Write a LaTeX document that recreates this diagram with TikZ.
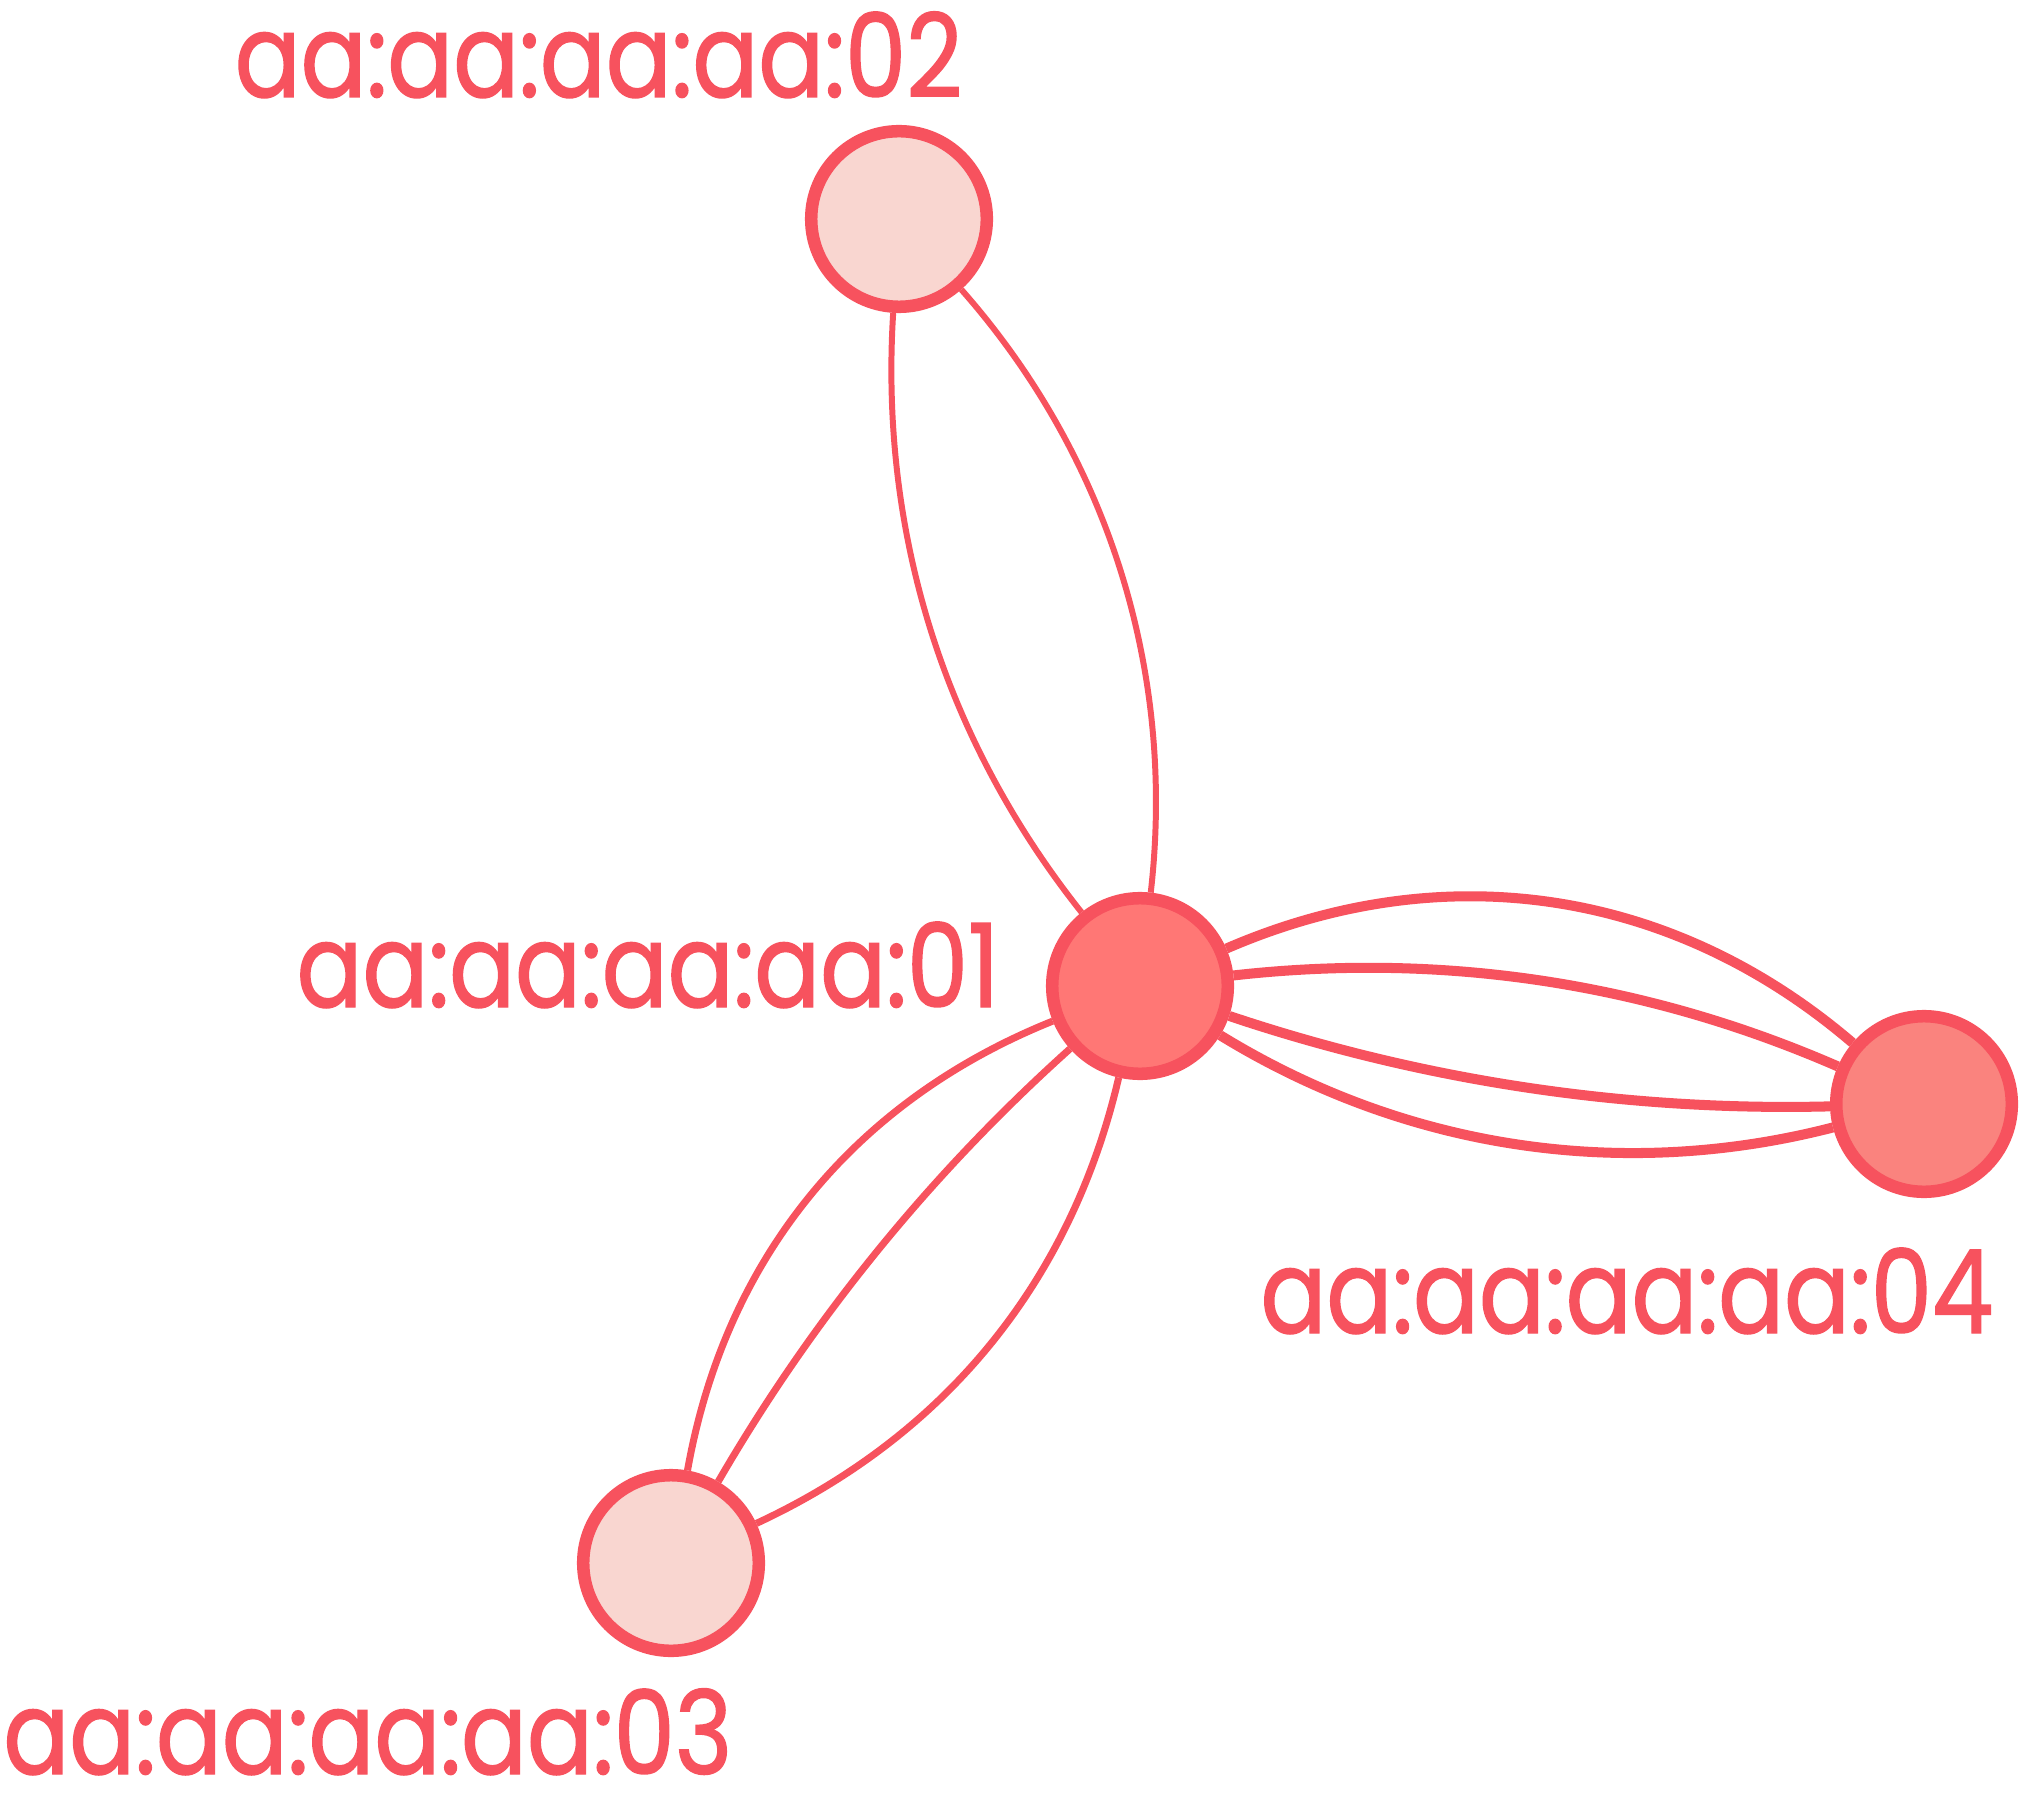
\documentclass[tikz,border=0pt]{standalone}
\usepackage{fontspec}
\setmainfont{Poppins}
\newfontfamily\lblfont[FakeStretch=0.84,FakeBold=1.2]{Poppins}
\usepackage{tikz}
\usetikzlibrary{calc}
\definecolor{edgered}{RGB}{247,82,94}
\definecolor{fillmain}{RGB}{255,119,117}
\definecolor{fillfour}{RGB}{250,131,126}
\definecolor{filllight}{RGB}{249,214,208}

\begin{document}
\begin{tikzpicture} [x=0.01cm, y=0.01cm,
  vert/.style={circle,draw=edgered,line width=3.56pt,minimum size=1.755cm,inner sep=0pt},
  lbl/.style={anchor=base east,inner sep=0pt,text=edgered,font=\lblfont\fontsize{33}{33}\selectfont}
]
\useasboundingbox (0,0) rectangle (2019,1805);
\node[vert,fill=fillmain]  (m01) at (1140,819) {};
\node[vert,fill=filllight] (m02) at (899,1586) {};
\node[vert,fill=filllight] (m03) at (671,242) {};
\node[vert,fill=fillfour]  (m04) at (1924,701) {};
% labels
\node[lbl] (l01) at ($(m01)+(-140,-21)$) {aa:aa:aa:aa:01};
\node[lbl] (l02) at ($(m02)+(64,122)$) {aa:aa:aa:aa:02};
\node[lbl] (l03) at ($(m03)+(62,-211)$) {aa:aa:aa:aa:03};
\node[lbl] (l04) at ($(m04)+(70,-229)$) {aa:aa:aa:aa:04};
% links
\path[draw=edgered,line width=1.7pt]
(m01) edge[bend left=21,looseness=0.9] (m02)
(m01) edge[bend right=24,looseness=0.9] (m02)
;
\path[draw=edgered,line width=2pt]
(m01) edge[bend right=29,looseness=0.95] (m03)
(m01) edge[bend right=9,looseness=0.86] (m03)
(m01) edge[bend left=26,looseness=0.93] (m03)
;
\path[draw=edgered,line width=2.85pt]
(m01) edge[bend left=32,looseness=0.96] (m04)
(m01) edge[bend left=15,looseness=0.88] (m04)
(m01) edge[bend right=10,looseness=0.86] (m04)
(m01) edge[bend right=23,looseness=0.9] (m04)
;
\end{tikzpicture}
\end{document}
